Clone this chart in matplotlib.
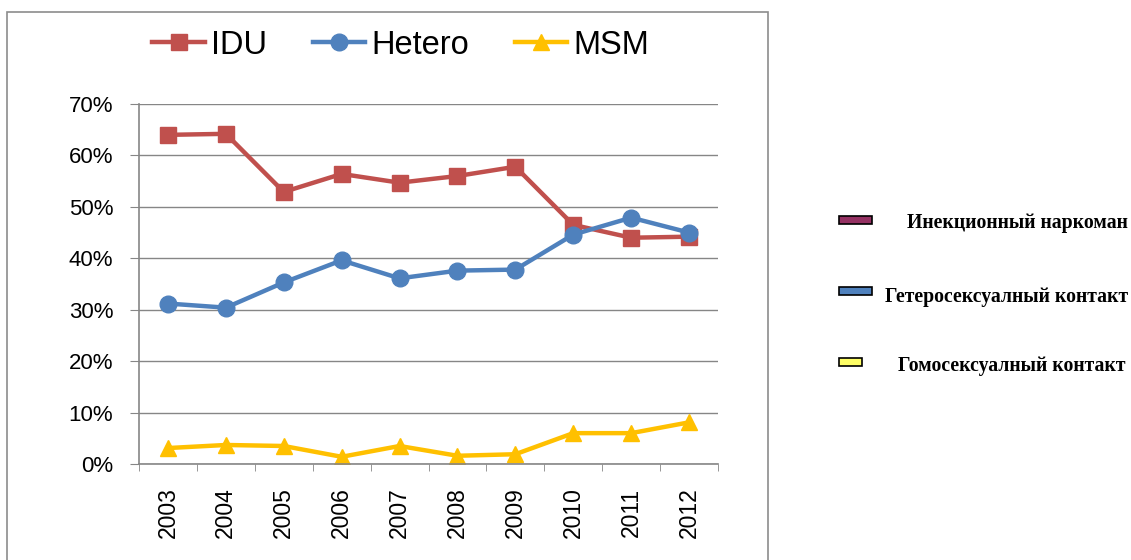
import matplotlib
matplotlib.use("Agg")
import matplotlib.pyplot as plt
from matplotlib.patches import Rectangle

# data
years = ["2003", "2004", "2005", "2006", "2007", "2008", "2009", "2010", "2011", "2012"]
idu = [64.0, 64.2, 52.9, 56.4, 54.7, 56.0, 57.8, 46.5, 44.0, 44.2]
hetero = [31.2, 30.4, 35.3, 39.6, 36.1, 37.6, 37.8, 44.6, 47.9, 45.0]
msm = [3.1, 3.7, 3.5, 1.4, 3.5, 1.6, 1.9, 6.0, 6.0, 8.1]

side_labels = ["Инекционный наркоман", "Гетеросексуалный контакт", "Гомосексуалный контакт"]
side_colors = ["#953163", "#4F81BD", "#FFFF66"]

plt.rcParams["font.family"] = ["Liberation Sans", "DejaVu Sans"]

W, H = 1131, 560
fig = plt.figure(figsize=(W / 100, H / 100), dpi=100)

# outer chart frame
fig.patches.append(Rectangle((7 / W, -0.01), (768 - 7) / W, 1 - 12 / H + 0.01,
                             transform=fig.transFigure, fill=False,
                             edgecolor="#8C8C8C", linewidth=1.2))

ax = fig.add_axes([139 / W, 1 - 464 / H, (718 - 139) / W, (464 - 104) / H])
x = list(range(len(years)))

ax.plot(x, idu, color="#C0504D", lw=3.2, marker="s", ms=11, label="IDU")
ax.plot(x, hetero, color="#4F81BD", lw=3.2, marker="o", ms=12, label="Hetero")
ax.plot(x, msm, color="#FFC000", lw=3.2, marker="^", ms=12, label="MSM")

ax.set_xlim(-0.5, len(years) - 0.5)
ax.set_ylim(0, 70)
ax.set_yticks(range(0, 71, 10))
ax.set_yticklabels([f"{v}%" for v in range(0, 71, 10)], fontsize=16)
ax.set_xticks(x)
ax.set_xticklabels(years, rotation=90, fontsize=16.5)
ax.set_xticks([i - 0.5 for i in range(len(years) + 1)], minor=True)
ax.tick_params(axis="x", which="major", length=0, pad=17)
ax.tick_params(axis="x", which="minor", length=5, color="#868686", direction="out")
ax.tick_params(axis="y", length=6.5, color="#868686", pad=12)

ax.grid(axis="y", color="#868686", linewidth=1)
ax.set_axisbelow(True)
for s in ["top", "right"]:
    ax.spines[s].set_visible(False)
for s in ["left", "bottom"]:
    ax.spines[s].set_color("#868686")
    ax.spines[s].set_linewidth(1.2)

fig.legend(loc="center", bbox_to_anchor=(401 / W, 1 - 45 / H), ncol=3,
           frameon=False, fontsize=23.5, handlelength=1.6, handletextpad=0.2,
           columnspacing=1.4, borderaxespad=0)

# right-hand legend (boxes + bold serif labels)
box_y = [220, 291, 362]
box_w = [33, 33, 23]
text_y = [223, 297, 366]
text_x = [1128, 1128, 1125]
for lab, col, by, bw, ty, tx in zip(side_labels, side_colors, box_y, box_w, text_y, text_x):
    fig.patches.append(Rectangle((839 / W, 1 - (by + 4) / H), bw / W, 8 / H,
                                 transform=fig.transFigure, facecolor=col,
                                 edgecolor="black", linewidth=1.2))
    fig.text(tx / W, 1 - ty / H, lab, ha="right", va="center",
             fontsize=14.2, fontweight="bold", family="Liberation Serif")

fig.savefig("out.png", dpi=100)
